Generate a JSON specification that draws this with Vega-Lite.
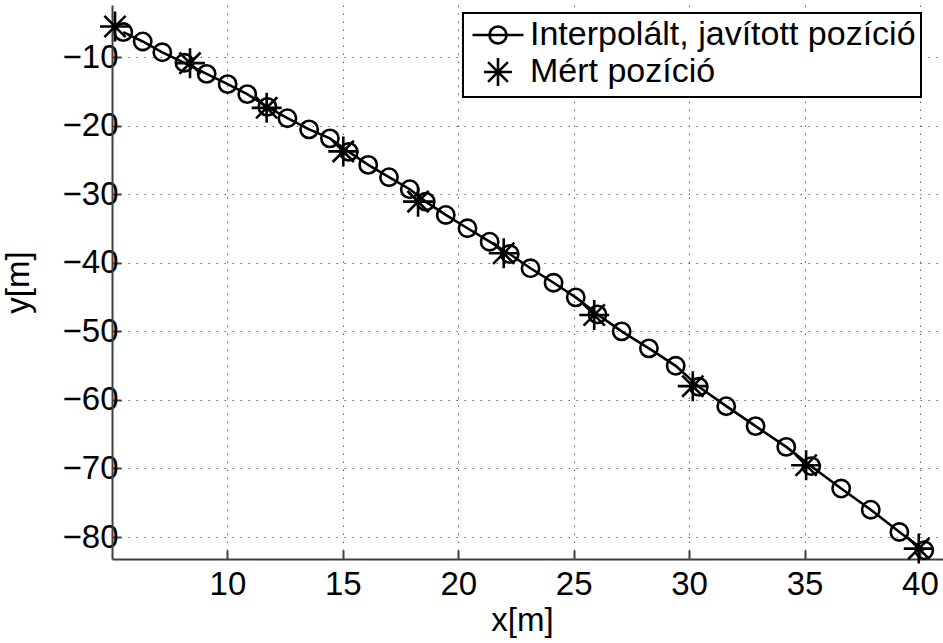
{
  "$schema": "https://vega.github.io/schema/vega-lite/v6.json",
  "autosize": {"type": "none"},
  "padding": {"left": 112, "top": 5, "right": 0, "bottom": 84},
  "width": 831,
  "height": 554,
  "background": "white",
  "config": {
    "view": {"stroke": null},
    "font": "Liberation Sans",
    "legend": {"strokeWidth": 2},
    "axis": {
      "labelFont": "Liberation Sans",
      "labelFontSize": 33,
      "labelColor": "black",
      "titleFont": "Liberation Sans",
      "titleFontSize": 33,
      "titleFontWeight": "normal",
      "titleColor": "black",
      "domainColor": "#404040",
      "domainWidth": 2,
      "tickColor": "#404040",
      "tickWidth": 2,
      "tickSize": -9,
      "grid": true,
      "gridColor": "#606060",
      "gridWidth": 1,
      "gridDash": [1.5, 6.5],
      "gridOpacity": 1
    }
  },
  "datasets": {
    "interp": [
      {"x": 5.49, "y": -6.35, "series": "Interpolált, javított pozíció"},
      {"x": 6.33, "y": -7.72, "series": "Interpolált, javított pozíció"},
      {"x": 7.18, "y": -9.30, "series": "Interpolált, javított pozíció"},
      {"x": 8.14, "y": -10.83, "series": "Interpolált, javított pozíció"},
      {"x": 9.10, "y": -12.44, "series": "Interpolált, javított pozíció"},
      {"x": 10.01, "y": -13.94, "series": "Interpolált, javított pozíció"},
      {"x": 10.86, "y": -15.40, "series": "Interpolált, javított pozíció"},
      {"x": 11.73, "y": -17.26, "series": "Interpolált, javított pozíció"},
      {"x": 12.60, "y": -18.91, "series": "Interpolált, javított pozíció"},
      {"x": 13.54, "y": -20.54, "series": "Interpolált, javított pozíció"},
      {"x": 14.44, "y": -21.85, "series": "Interpolált, javított pozíció"},
      {"x": 15.26, "y": -23.82, "series": "Interpolált, javított pozíció"},
      {"x": 16.10, "y": -25.72, "series": "Interpolált, javított pozíció"},
      {"x": 17.00, "y": -27.52, "series": "Interpolált, javított pozíció"},
      {"x": 17.90, "y": -29.27, "series": "Interpolált, javított pozíció"},
      {"x": 18.59, "y": -31.08, "series": "Interpolált, javított pozíció"},
      {"x": 19.46, "y": -33.02, "series": "Interpolált, javított pozíció"},
      {"x": 20.40, "y": -34.96, "series": "Interpolált, javított pozíció"},
      {"x": 21.36, "y": -36.92, "series": "Interpolált, javított pozíció"},
      {"x": 22.23, "y": -38.72, "series": "Interpolált, javított pozíció"},
      {"x": 23.13, "y": -40.80, "series": "Interpolált, javított pozíció"},
      {"x": 24.13, "y": -42.91, "series": "Interpolált, javított pozíció"},
      {"x": 25.09, "y": -45.04, "series": "Interpolált, javított pozíció"},
      {"x": 26.03, "y": -47.52, "series": "Interpolált, javított pozíció"},
      {"x": 27.08, "y": -50.00, "series": "Interpolált, javított pozíció"},
      {"x": 28.26, "y": -52.48, "series": "Interpolált, javított pozíció"},
      {"x": 29.42, "y": -55.02, "series": "Interpolált, javított pozíció"},
      {"x": 30.42, "y": -58.09, "series": "Interpolált, javított pozíció"},
      {"x": 31.61, "y": -60.91, "series": "Interpolált, javított pozíció"},
      {"x": 32.88, "y": -63.82, "series": "Interpolált, javított pozíció"},
      {"x": 34.21, "y": -66.85, "series": "Interpolált, javított pozíció"},
      {"x": 35.29, "y": -69.66, "series": "Interpolált, javított pozíció"},
      {"x": 36.59, "y": -72.92, "series": "Interpolált, javított pozíció"},
      {"x": 37.87, "y": -76.01, "series": "Interpolált, javított pozíció"},
      {"x": 39.11, "y": -79.26, "series": "Interpolált, javított pozíció"},
      {"x": 40.19, "y": -81.93, "series": "Interpolált, javított pozíció"}
    ],
    "measured": [
      {"x": 5.13, "y": -5.53, "series": "Mért pozíció"},
      {"x": 8.38, "y": -10.88, "series": "Mért pozíció"},
      {"x": 11.70, "y": -17.40, "series": "Mért pozíció"},
      {"x": 15.02, "y": -23.75, "series": "Mért pozíció"},
      {"x": 18.26, "y": -31.08, "series": "Mért pozíció"},
      {"x": 21.97, "y": -38.61, "series": "Mért pozíció"},
      {"x": 25.89, "y": -47.62, "series": "Mért pozíció"},
      {"x": 30.16, "y": -57.99, "series": "Mért pozíció"},
      {"x": 35.07, "y": -69.52, "series": "Mért pozíció"},
      {"x": 39.95, "y": -81.68, "series": "Mért pozíció"}
    ]
  },
  "encoding": {
    "x": {
      "field": "x", "type": "quantitative",
      "scale": {"domain": [5, 41], "nice": false, "zero": false},
      "axis": {"values": [10, 15, 20, 25, 30, 35, 40], "title": "x[m]", "labelPadding": 18, "titleX": 410, "titleY": 71, "titleBaseline": "alphabetic", "titleAlign": "center"}
    },
    "y": {
      "field": "y", "type": "quantitative",
      "scale": {"domain": [-83.2, -2.4], "nice": false, "zero": false},
      "axis": {"values": [-80, -70, -60, -50, -40, -30, -20, -10], "title": "y[m]", "labelPadding": 3, "titleX": -84, "titleY": 277, "titleAngle": -90, "titleBaseline": "alphabetic", "titleAlign": "center"}
    }
  },
  "layer": [
    {
      "data": {"name": "interp"},
      "mark": {"type": "line", "strokeWidth": 2.6},
      "encoding": {
        "order": {"field": "x", "type": "quantitative"},
        "stroke": {
          "field": "series", "type": "nominal",
          "scale": {
            "domain": ["Interpolált, javított pozíció", "Mért pozíció"],
            "range": ["black", "black"]
          },
          "legend": {
            "title": null,
            "orient": "none",
            "legendX": 351,
            "legendY": 8,
            "fillColor": "white",
            "strokeColor": "black",
            "cornerRadius": 0,
            "padding": 5,
            "rowPadding": 0,
            "symbolOffset": 13,
            "labelOffset": 15,
            "labelFont": "Liberation Sans",
            "labelFontSize": 34,
            "labelColor": "black",
            "labelLimit": 800,
            "symbolSize": 900,
            "symbolStrokeWidth": 2.6,
            "symbolFillColor": "transparent",
            "encode": {
              "symbols": {
                "update": {
                  "shape": {"signal": "datum.value === 'Mért pozíció' ? 'M0,-0.93V0.93M-0.93,0H0.93M-0.66,-0.66L0.66,0.66M-0.66,0.66L0.66,-0.66' : 'M-1.7,0H1.7M0.567,0A0.567,0.567,0,1,1,-0.567,0A0.567,0.567,0,1,1,0.567,0'"}
                }
              }
            }
          }
        }
      }
    },
    {
      "data": {"name": "interp"},
      "mark": {"type": "point", "filled": false, "shape": "circle", "color": "black", "strokeWidth": 2.6, "size": 300, "opacity": 1}
    },
    {
      "data": {"name": "measured"},
      "mark": {"type": "point", "filled": false, "shape": "M0,-1V1M-1,0H1M-0.707,-0.707L0.707,0.707M-0.707,0.707L0.707,-0.707", "color": "black", "strokeWidth": 2.6, "size": 900, "opacity": 1}
    }
  ]
}
